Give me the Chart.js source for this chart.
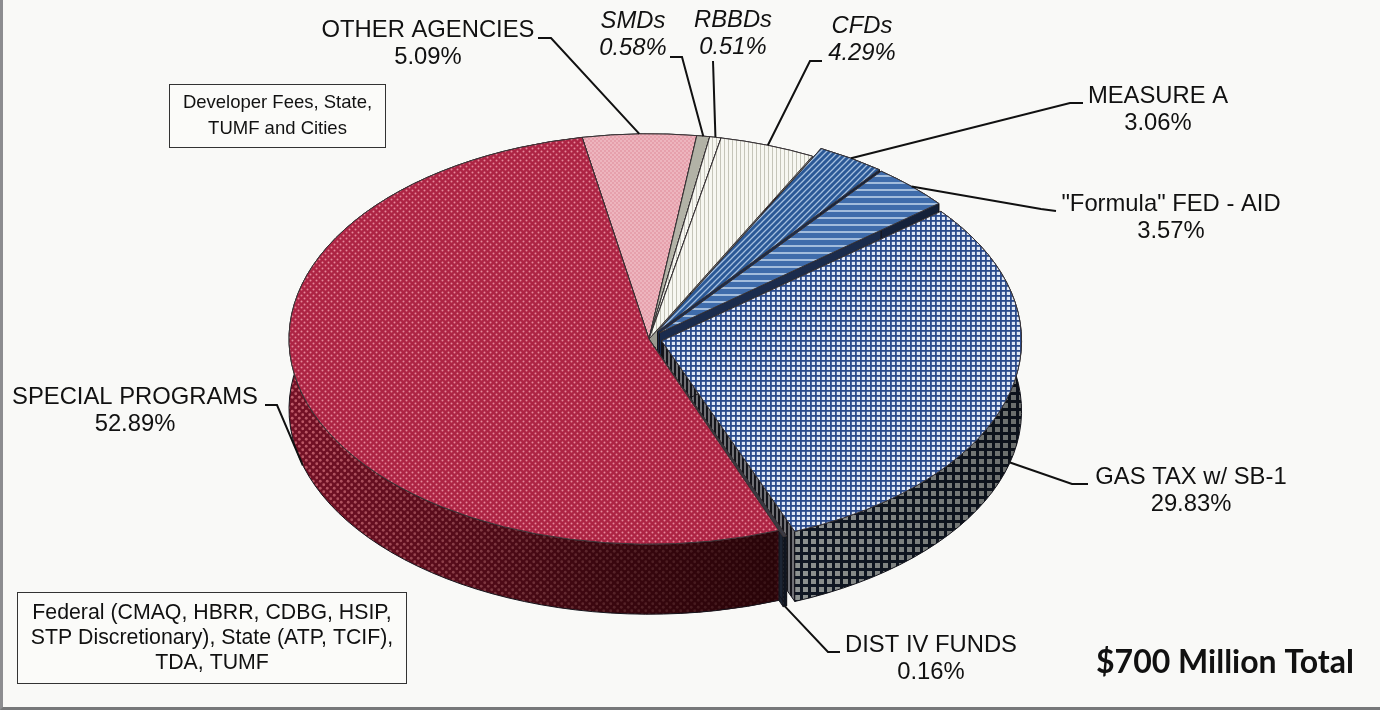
<!DOCTYPE html>
<html>
<head>
<meta charset="utf-8">
<title>$700 Million Total</title>
<script src="https://cdn.jsdelivr.net/npm/chart.js@4"></script>
<style>
  html, body { margin: 0; padding: 0; background: #f9f9f7; }
  #wrap { position: relative; width: 1380px; height: 710px; overflow: hidden; }
  #wrap:after { content: ''; position: absolute; left: 0; top: 0; right: 0; bottom: 0; box-sizing: border-box;
    border-left: 3px solid #8d8d90; border-bottom: 3px solid #77787a; pointer-events: none; }
</style>
</head>
<body>
<div id="wrap"><canvas id="pie" width="1380" height="710"></canvas></div>
<script>
// data, clockwise starting at MEASURE A
const categories = ['MEASURE A', '"Formula" FED - AID', 'GAS TAX w/ SB-1', 'DIST IV FUNDS', 'SPECIAL PROGRAMS', 'OTHER AGENCIES', 'SMDs', 'RBBDs', 'CFDs'];
const shares = [3.06, 3.57, 29.83, 0.16, 52.89, 5.09, 0.58, 0.51, 4.29];
const totalLabel = '$700 Million Total';
const developerNote = ['Developer Fees, State,', 'TUMF and Cities'];
const federalNote = ['Federal (CMAQ, HBRR, CDBG, HSIP,', 'STP Discretionary), State (ATP, TCIF),', 'TDA, TUMF'];

// look of the tilted pie
const SQUASH = 0.57;
const DEPTH = 70;
const sliceOffsets = [16, 15, 13, 12, 0, 0, 0, 0, 0];
const drawOrder = [5, 6, 7, 8, 0, 1, 2, 3, 4];

function tile(w, h, paint) {
    const c = document.createElement('canvas');
    c.width = w;
    c.height = h;
    paint(c.getContext('2d'));
    return c.getContext('2d').createPattern(c, 'repeat');
}
function dots(base, dot, size, r) {
    return tile(size, size, g => {
        g.fillStyle = base;
        g.fillRect(0, 0, size, size);
        g.fillStyle = dot;
        [[size / 4, size / 4], [size * 3 / 4, size * 3 / 4]].forEach(p => {
            g.beginPath();
            g.arc(p[0], p[1], r, 0, Math.PI * 2);
            g.fill();
        });
    });
}
function grid(light, line, size, width) {
    return tile(size, size, g => {
        g.fillStyle = light;
        g.fillRect(0, 0, size, size);
        g.fillStyle = line;
        g.fillRect(0, 0, size, width);
        g.fillRect(0, 0, width, size);
    });
}
function stripes(a, b, size, barWidth, vertical) {
    return tile(size, size, g => {
        g.fillStyle = a;
        g.fillRect(0, 0, size, size);
        g.fillStyle = b;
        if (vertical) g.fillRect(0, 0, barWidth, size);
        else g.fillRect(0, 0, size, barWidth);
    });
}
function diagonal(a, b, size) {
    return tile(size, size, g => {
        g.fillStyle = a;
        g.fillRect(0, 0, size, size);
        g.strokeStyle = b;
        g.lineWidth = 1.3;
        g.beginPath();
        g.moveTo(-1, size + 1); g.lineTo(size + 1, -1);
        g.moveTo(-size / 2, size / 2); g.lineTo(size / 2, -size / 2);
        g.moveTo(size / 2, size * 1.5); g.lineTo(size * 1.5, size / 2);
        g.stroke();
    });
}

const topFills = [
    diagonal('#2a5896', '#a5bfdf', 6),
    stripes('#3f6cab', '#a2bcdc', 7, 2, false),
    grid('#dfe7f5', '#2a4a8c', 5, 1.8),
    '#3a3a44',
    dots('#ad2444', '#e5899a', 6, 1),
    dots('#e6a0ac', '#efbcc4', 4, 1),
    '#b2b2a6',
    stripes('#f6f6f0', '#c8c8be', 4, 1, true),
    stripes('#f7f7f1', '#c5c5b9', 4, 1, true)
];
const wallFills = [
    '#1b2c4d',
    '#1b2c4d',
    grid('#a3a8a6', '#121a28', 8, 3),
    grid('#5b6a78', '#121a28', 4, 2),
    dots('#7a1228', '#c9606f', 7, 1.4),
    '#a06a72',
    '#77776e',
    '#99998f',
    '#99998f'
];
// the cut faces, seen only in the gaps between slices
const panelFills = ['#1b2c4d', '#1b2c4d', stripes('#14141a', '#6f6f74', 4, 2, true), '#1b2433', '#3a0512', '#a06a72', '#77776e', '#99998f', '#99998f'];

const tiltedPie = {
    id: 'tiltedPie',
    beforeDatasetDraw(chart, args) {
        const ctx = chart.ctx;
        const arcs = args.meta.data;

        // the screen shape of a slice, the library gives the angles
        const shape = i => {
            const a = arcs[i];
            const off = a.options.offset || 0;
            const mid = (a.startAngle + a.endAngle) / 2;
            return {
                cx: a.x + Math.cos(mid) * off,
                cy: a.y + Math.sin(mid) * off * SQUASH,
                rx: a.outerRadius,
                ry: a.outerRadius * SQUASH,
                a0: a.startAngle,
                a1: a.endAngle
            };
        };
        const drawWall = i => {
            const s = shape(i);
            const p = t => [s.cx + s.rx * Math.cos(t), s.cy + s.ry * Math.sin(t)];
            ctx.strokeStyle = '#15151c';
            ctx.lineWidth = 1;

            ctx.beginPath();
            [s.a0, s.a1].forEach(t => {
                const q = p(t);
                ctx.moveTo(s.cx, s.cy);
                ctx.lineTo(q[0], q[1]);
                ctx.lineTo(q[0], q[1] + DEPTH);
                ctx.lineTo(s.cx, s.cy + DEPTH);
                ctx.closePath();
            });
            ctx.fillStyle = panelFills[i];
            ctx.fill();
            ctx.stroke();

            ctx.beginPath();
            ctx.moveTo(p(s.a0)[0], p(s.a0)[1]);
            ctx.ellipse(s.cx, s.cy, s.rx, s.ry, 0, s.a0, s.a1);
            ctx.ellipse(s.cx, s.cy + DEPTH, s.rx, s.ry, 0, s.a1, s.a0, true);
            ctx.closePath();
            ctx.fillStyle = wallFills[i];
            ctx.fill();
            const shade = ctx.createLinearGradient(290, 0, 1020, 0);
            shade.addColorStop(0, 'rgba(20,0,0,0.05)');
            shade.addColorStop(0.42, 'rgba(20,0,0,0.62)');
            shade.addColorStop(0.665, 'rgba(20,0,0,0.8)');
            shade.addColorStop(0.68, 'rgba(0,0,0,0.12)');
            shade.addColorStop(1, 'rgba(0,0,0,0.35)');
            ctx.fillStyle = shade;
            ctx.fill();
            ctx.stroke();
        };
        const drawTop = i => {
            const s = shape(i);
            ctx.beginPath();
            ctx.moveTo(s.cx, s.cy);
            ctx.ellipse(s.cx, s.cy, s.rx, s.ry, 0, s.a0, s.a1);
            ctx.closePath();
            ctx.fillStyle = arcs[i].options.backgroundColor;
            ctx.fill();
            ctx.strokeStyle = '#3a3436';
            ctx.lineWidth = 1;
            ctx.stroke();
        };

        ctx.save();
        drawOrder.forEach((i, n) => {
            drawWall(i);
            // front slices get their tops at the end, over all the walls
            if (n < 6) drawTop(i);
        });
        [4, 3, 2].forEach(drawTop);
        ctx.restore();
        return false;
    }
};

// where the texts sit and the bend of each leader line, one per category
const labelSpots = [
    { x: 1158, y: 96, bend: [[1083, 103], [1070, 103]] },
    { x: 1171, y: 204, bend: [[1056, 211], [1041, 209]] },
    { x: 1191, y: 477, bend: [[1088, 484], [1072, 484]] },
    { x: 931, y: 645, bend: [[840, 652], [828, 652]] },
    { x: 135, y: 397, bend: [[265, 405], [277, 405]] },
    { x: 428, y: 30, bend: [[538, 38], [551, 38]] },
    { x: 633, y: 21, italic: true, bend: [[670, 57], [682, 57]] },
    { x: 733, y: 20, italic: true, bend: [[713, 61]] },
    { x: 862, y: 26, italic: true, bend: [[822, 61], [810, 61]] }
];

const annotations = {
    id: 'annotations',
    afterDraw(chart) {
        const ctx = chart.ctx;
        const arcs = chart.getDatasetMeta(0).data;
        ctx.save();
        ctx.textAlign = 'center';
        ctx.textBaseline = 'middle';
        ctx.fillStyle = '#111';

        labelSpots.forEach((spot, i) => {
            const a = arcs[i];
            const mid = (a.startAngle + a.endAngle) / 2;
            const off = a.options.offset || 0;
            const sin = Math.sin(mid);
            const endX = a.x + Math.cos(mid) * (a.outerRadius + off);
            const endY = a.y + sin * (a.outerRadius + off) * SQUASH + (sin > 0 ? DEPTH : 0);
            ctx.beginPath();
            spot.bend.forEach((b, n) => n ? ctx.lineTo(b[0], b[1]) : ctx.moveTo(b[0], b[1]));
            ctx.lineTo(endX, endY);
            ctx.strokeStyle = '#111';
            ctx.lineWidth = 2;
            ctx.stroke();

            ctx.font = (spot.italic ? 'italic ' : '') + '23.8px "Liberation Sans"';
            ctx.fillText(categories[i], spot.x, spot.y);
            ctx.fillText(shares[i].toFixed(2) + '%', spot.x, spot.y + 27.5);
        });

        const noteBox = (x, y, w, h, lines, size, firstY, step) => {
            ctx.fillStyle = '#fbfbf9';
            ctx.fillRect(x, y, w, h);
            ctx.strokeStyle = '#333';
            ctx.lineWidth = 1;
            ctx.strokeRect(x, y, w, h);
            ctx.fillStyle = '#111';
            ctx.font = size + 'px "Liberation Sans"';
            lines.forEach((t, n) => ctx.fillText(t, x + w / 2, firstY + n * step));
        };
        noteBox(169.5, 84.5, 216, 63, developerNote, 18.5, 103, 26);
        noteBox(17.5, 592.5, 389, 91, federalNote, 21.3, 613, 25);

        ctx.font = 'bold 32px Lato';
        ctx.fillText(totalLabel, 1225, 663);
        ctx.restore();
    }
};

new Chart(document.getElementById('pie'), {
    type: 'pie',
    data: {
        labels: categories,
        datasets: [{
            data: shares,
            backgroundColor: topFills,
            offset: sliceOffsets,
            borderWidth: 0
        }]
    },
    options: {
        responsive: false,
        animation: false,
        rotation: 27,
        radius: 360,
        layout: { padding: { right: 82, bottom: 32 } },
        plugins: { legend: { display: false }, tooltip: { enabled: false } }
    },
    plugins: [tiltedPie, annotations]
});
</script>
</body>
</html>
